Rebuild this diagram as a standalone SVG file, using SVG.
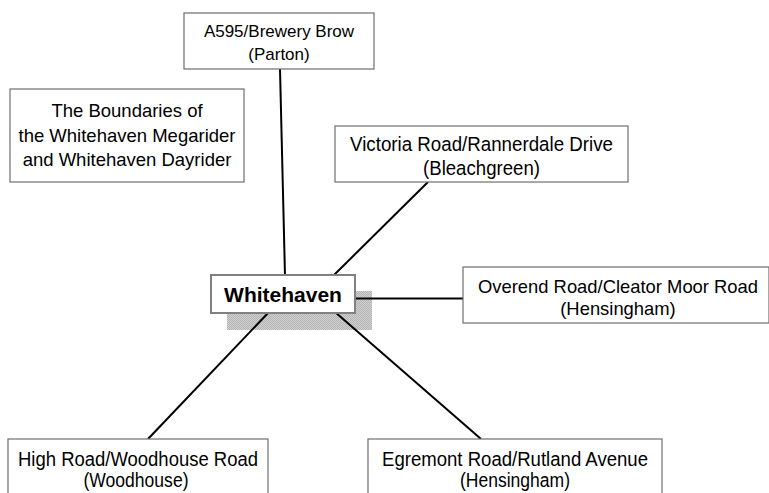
<svg xmlns="http://www.w3.org/2000/svg" width="769" height="493" viewBox="0 0 769 493">
<style>
.box{fill:#fff;stroke:#6e6e6e;stroke-width:1.2}
.main{fill:#fff;stroke:#808080;stroke-width:2}
.t{font-family:"Liberation Sans",Arial,sans-serif;fill:#000;text-anchor:middle}
.b{font-weight:bold}
#connectors line{stroke:#000;stroke-width:2}
</style>
<defs>
<pattern id="chk" width="2" height="2" patternUnits="userSpaceOnUse">
<rect width="2" height="2" fill="#d0d0d0"/>
<rect width="1" height="1" fill="#b4b4b4"/>
<rect x="1" y="1" width="1" height="1" fill="#b4b4b4"/>
</pattern>
</defs>
<rect width="769" height="493" fill="#fff"/>
<rect id="shadow" x="227" y="291" width="145" height="39" fill="url(#chk)"/>
<g id="connectors">
<line x1="280" y1="69" x2="285" y2="276"/>
<line x1="333" y1="276" x2="428" y2="182"/>
<line x1="355" y1="298.5" x2="463" y2="298.5"/>
<line x1="269" y1="312" x2="148" y2="439"/>
<line x1="335" y1="312" x2="481" y2="439"/>
</g>
<g id="title">
<rect class="box" x="10" y="89" width="234" height="93"/>
<text class="t" font-size="18.5" x="127" y="117">The Boundaries of</text>
<text class="t" font-size="18.5" x="127" y="142">the Whitehaven Megarider</text>
<text class="t" font-size="18.5" x="127" y="166">and Whitehaven Dayrider</text>
</g>
<g id="parton">
<rect class="box" x="184" y="13" width="190" height="56"/>
<text class="t" font-size="17" x="279" y="37">A595/Brewery Brow</text>
<text class="t" font-size="17" x="279" y="60">(Parton)</text>
</g>
<g id="bleachgreen">
<rect class="box" x="335" y="126" width="293" height="56"/>
<text class="t" font-size="20.5" x="481.5" y="151" textLength="263" lengthAdjust="spacingAndGlyphs">Victoria Road/Rannerdale Drive</text>
<text class="t" font-size="20.5" x="481.5" y="175" textLength="117" lengthAdjust="spacingAndGlyphs">(Bleachgreen)</text>
</g>
<g id="whitehaven">
<rect class="main" x="211" y="275" width="144" height="38"/>
<text class="t b" font-size="21" x="283" y="302">Whitehaven</text>
</g>
<g id="overend">
<rect class="box" x="463" y="267" width="306" height="56"/>
<text class="t" font-size="18.4" x="618" y="293">Overend Road/Cleator Moor Road</text>
<text class="t" font-size="18.4" x="618" y="315">(Hensingham)</text>
</g>
<g id="woodhouse">
<rect class="box" x="8" y="439" width="260" height="60"/>
<text class="t" font-size="20" x="138" y="466" textLength="240" lengthAdjust="spacingAndGlyphs">High Road/Woodhouse Road</text>
<text class="t" font-size="20" x="136" y="487" textLength="105" lengthAdjust="spacingAndGlyphs">(Woodhouse)</text>
</g>
<g id="egremont">
<rect class="box" x="368" y="439" width="294" height="60"/>
<text class="t" font-size="20" x="515" y="466" textLength="266" lengthAdjust="spacingAndGlyphs">Egremont Road/Rutland Avenue</text>
<text class="t" font-size="20" x="515" y="487" textLength="110" lengthAdjust="spacingAndGlyphs">(Hensingham)</text>
</g>
</svg>
